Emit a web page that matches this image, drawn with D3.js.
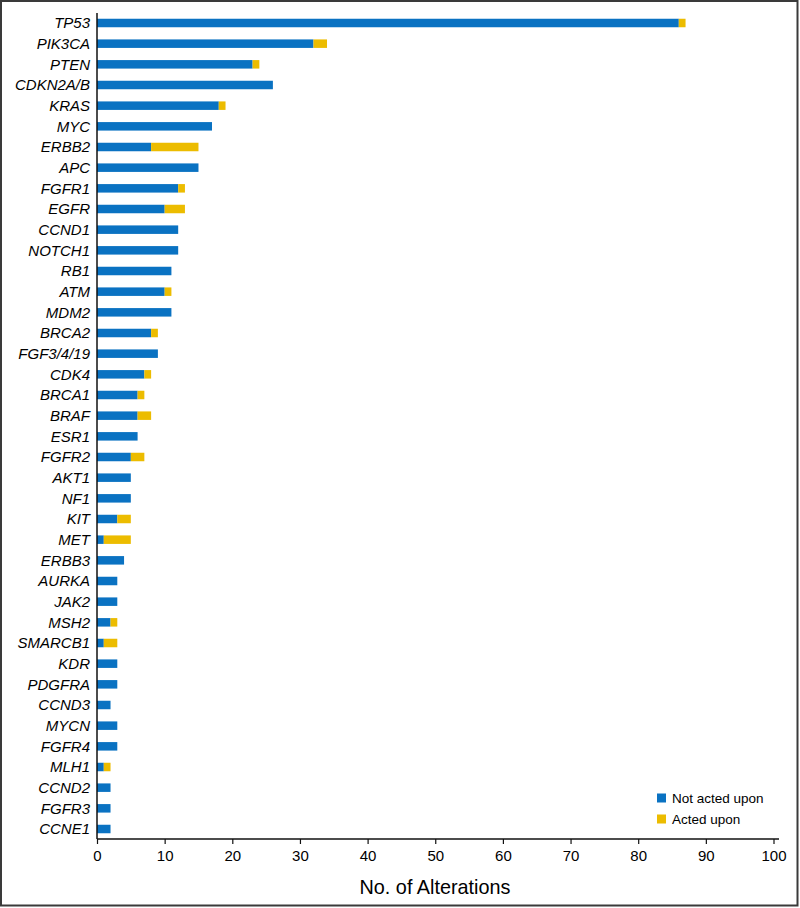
<!DOCTYPE html>
<html>
<head>
<meta charset="utf-8">
<script src="https://cdn.jsdelivr.net/npm/d3@7"></script>
<style>
  body { margin: 0; background: #fff; }
  text { font-family: "Liberation Sans", Arial, Helvetica, sans-serif; fill: #000; }
</style>
</head>
<body>
<div id="chart"></div>
<script>
// genes, top to bottom
const genes = ['TP53', 'PIK3CA', 'PTEN', 'CDKN2A/B', 'KRAS', 'MYC', 'ERBB2', 'APC', 'FGFR1', 'EGFR',
  'CCND1', 'NOTCH1', 'RB1', 'ATM', 'MDM2', 'BRCA2', 'FGF3/4/19', 'CDK4', 'BRCA1', 'BRAF',
  'ESR1', 'FGFR2', 'AKT1', 'NF1', 'KIT', 'MET', 'ERBB3', 'AURKA', 'JAK2', 'MSH2',
  'SMARCB1', 'KDR', 'PDGFRA', 'CCND3', 'MYCN', 'FGFR4', 'MLH1', 'CCND2', 'FGFR3', 'CCNE1']
const notActed = [86, 32, 23, 26, 18, 17, 8, 15, 12, 10,
  12, 12, 11, 10, 11, 8, 9, 7, 6, 6,
  6, 5, 5, 5, 3, 1, 4, 3, 3, 2,
  1, 3, 3, 2, 3, 3, 1, 2, 2, 2]
const acted = [1, 2, 1, 0, 1, 0, 7, 0, 1, 3,
  0, 0, 0, 1, 0, 1, 0, 1, 1, 2,
  0, 2, 0, 0, 2, 4, 0, 0, 0, 1,
  2, 0, 0, 0, 0, 0, 1, 0, 0, 0]
const xTicks = [0, 10, 20, 30, 40, 50, 60, 70, 80, 90, 100]
const seriesNames = ['Not acted upon', 'Acted upon']
const colors = ['#0a72c2', '#ecbc00']

const width = 800
const height = 908

let svg = d3.select('#chart').append('svg')
  .attr('width', width)
  .attr('height', height)

// outer frame
svg.append('rect')
  .attr('x', 1).attr('y', 1)
  .attr('width', 796.5).attr('height', 904.5)
  .attr('fill', 'none')
  .attr('stroke', '#3a3a3a')
  .attr('stroke-width', 2)

let x = d3.scaleLinear().domain([0, 100]).range([97, 773.5])
let y = d3.scalePoint().domain(genes).range([23, 829])
let barH = 8.5

let rows = genes.map(function (g, i) {
  return { gene: g, a: notActed[i], b: acted[i] }
})

// not acted upon
svg.append('g').selectAll('rect')
  .data(rows)
  .enter()
  .append('rect')
  .attr('x', x(0))
  .attr('y', function (d) { return y(d.gene) - barH / 2 })
  .attr('width', function (d) { return x(d.a) - x(0) })
  .attr('height', barH)
  .attr('fill', colors[0])

// acted upon, stacked on top
svg.append('g').selectAll('rect')
  .data(rows.filter(function (d) { return d.b > 0 }))
  .enter()
  .append('rect')
  .attr('x', function (d) { return x(d.a) })
  .attr('y', function (d) { return y(d.gene) - barH / 2 })
  .attr('width', function (d) { return x(d.a + d.b) - x(d.a) })
  .attr('height', barH)
  .attr('fill', colors[1])

// gene labels
svg.append('g').selectAll('text')
  .data(genes)
  .enter()
  .append('text')
  .attr('x', 90)
  .attr('y', function (g) { return y(g) })
  .attr('dy', '0.36em')
  .attr('text-anchor', 'end')
  .attr('font-style', 'italic')
  .attr('font-size', 15)
  .text(function (g) { return g })

// y axis line
svg.append('line')
  .attr('x1', 97).attr('x2', 97)
  .attr('y1', 13).attr('y2', 839)
  .attr('stroke', '#111').attr('stroke-width', 1.5)

// x axis
let xAxis = svg.append('g')
  .attr('transform', 'translate(0,839)')
  .call(d3.axisBottom(x).tickValues(xTicks).tickSize(5).tickSizeOuter(0))
xAxis.select('.domain').remove()
xAxis.append('line')
  .attr('x1', 97).attr('x2', 779)
  .attr('stroke', '#111').attr('stroke-width', 1.5)
xAxis.selectAll('.tick line').attr('stroke', '#111').attr('stroke-width', 1.2)
xAxis.selectAll('.tick text')
  .attr('font-size', 15)
  .attr('font-family', '"Liberation Sans", Arial, sans-serif')
  .attr('fill', '#000')
  .attr('dy', '0.95em')

svg.append('text')
  .attr('x', 435)
  .attr('y', 894)
  .attr('text-anchor', 'middle')
  .attr('font-size', 21)
  .attr('textLength', 151)
  .attr('lengthAdjust', 'spacingAndGlyphs')
  .text('No. of Alterations')

// legend
let legend = svg.append('g').selectAll('g')
  .data(seriesNames)
  .enter()
  .append('g')
  .attr('transform', function (d, i) { return 'translate(657,' + (798 + i * 21) + ')' })
legend.append('rect')
  .attr('x', 0).attr('y', -4.5)
  .attr('width', 9).attr('height', 9)
  .attr('fill', function (d, i) { return colors[i] })
legend.append('text')
  .attr('x', 15)
  .attr('dy', '0.36em')
  .attr('font-size', 13.5)
  .text(function (d) { return d })
</script>
</body>
</html>
